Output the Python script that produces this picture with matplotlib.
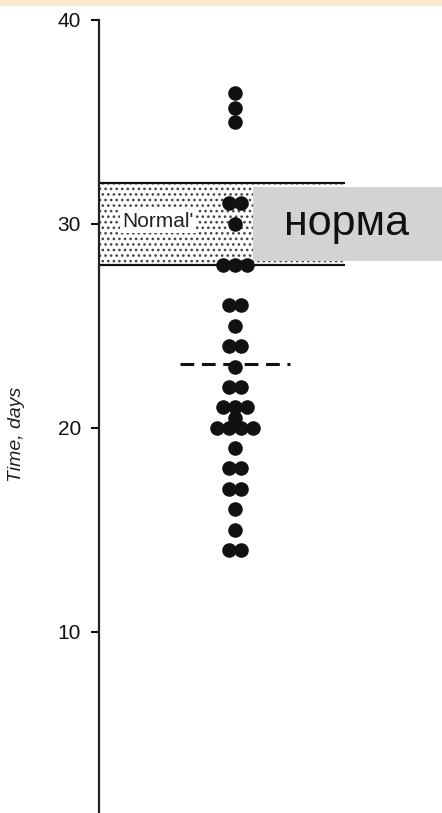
import numpy as np
import matplotlib
matplotlib.use("Agg")
import matplotlib.pyplot as plt
from matplotlib.patches import Rectangle

plt.rcParams['font.family'] = ['Liberation Sans', 'DejaVu Sans']
plt.rcParams['hatch.linewidth'] = 1.1

# time for each patient, in days (one dot per patient)
days = [36.4, 35.7, 35.0, 31, 31, 30, 28, 28, 28, 26, 26, 25, 24, 24, 23,
        22, 22, 21, 21, 21, 20.5, 20, 20, 20, 20, 19, 18, 18, 17, 17,
        16, 15, 14, 14]
normal_low, normal_high = 28, 32
yticks = [10, 20, 30, 40]

fig = plt.figure(figsize=(4.42, 8.13), dpi=100)
ax = fig.add_axes([0.224, 0.0, 0.776, 0.9754])
ax.set_xlim(0, 10)
ax.set_ylim(1.1, 40)

# spread equal values sideways so the dots sit next to each other
centre = 3.97
step = 0.35
xs, ys = [], []
vals, counts = np.unique(days, return_counts=True)
for v, n in zip(vals, counts):
    offs = (np.arange(n) - (n - 1) / 2) * step
    xs.extend(centre + offs)
    ys.extend([v] * n)

# shaded normal range
ax.fill_between([0, 7.17], normal_low, normal_high, facecolor='white',
                edgecolor='#444444', hatch='...', linewidth=0, zorder=1)
ax.hlines([normal_low, normal_high], 0, 7.17, color='#111111', lw=1.6, zorder=2)
ax.text(0.68, 30.1, "Normal'", fontsize=15, va='center', ha='left',
        color='#222222', bbox=dict(fc='white', ec='none', pad=1.5), zorder=3)

# mean line
mean_days = np.mean(days)
ax.plot([2.36, 5.57], [mean_days, mean_days], color='#111111', lw=2.2,
        linestyle=(0, (4.5, 2.5)), zorder=3)

ax.scatter(xs, ys, s=110, color='#111111', linewidths=0, zorder=4)

# label box over the right part of the band
ax.add_patch(Rectangle((4.49, 28.19), 5.51, 3.62, facecolor='#d3d3d3',
                       edgecolor='none', zorder=5, clip_on=False))
ax.text(7.23, 29.46, 'норма', fontsize=31, ha='center', va='baseline',
        color='#111111', zorder=6)

for side in ['top', 'right', 'bottom']:
    ax.spines[side].set_visible(False)
ax.spines['left'].set_linewidth(1.6)
ax.spines['left'].set_color('#222222')
ax.set_yticks(yticks)
ax.tick_params(axis='y', direction='out', length=6, width=1.5, pad=7,
               labelsize=15, colors='#111111')
ax.tick_params(axis='x', bottom=False, labelbottom=False)

ax.set_ylabel('Time, days', fontsize=14, fontstyle='italic', color='#222222')
ax.yaxis.set_label_coords(-0.216, 0.477)

# thin beige strip along the top edge
fig.add_artist(Rectangle((0, 1 - 6 / 813), 1, 6 / 813, transform=fig.transFigure,
                         facecolor='#fbe8cf', edgecolor='none'))

fig.savefig('out.png', dpi=100)
